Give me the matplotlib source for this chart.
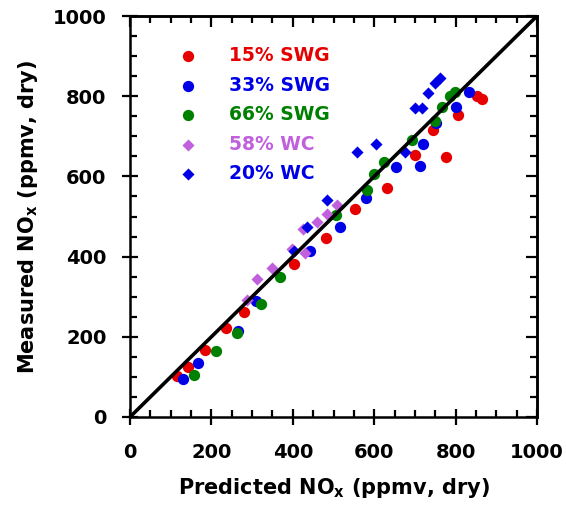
import matplotlib
matplotlib.use("Agg")
import matplotlib.pyplot as plt
from matplotlib.ticker import MultipleLocator

plt.rcParams['font.family'] = ['DejaVu Sans']
plt.rcParams['font.weight'] = 'bold'
plt.rcParams['mathtext.fontset'] = 'dejavusans'

# 15% SWG
swg15_pred = [115, 143, 184, 235, 281, 404, 482, 553, 631, 700, 745, 776, 806, 853, 865]
swg15_meas = [101, 124, 167, 223, 261, 381, 447, 518, 571, 653, 715, 648, 754, 800, 793]
# 33% SWG
swg33_pred = [129, 168, 266, 310, 442, 516, 580, 654, 713, 719, 752, 801, 834]
swg33_meas = [96, 134, 215, 290, 415, 475, 545, 624, 627, 681, 732, 774, 811]
# 66% SWG
swg66_pred = [158, 211, 262, 322, 369, 506, 582, 600, 624, 692, 749, 766, 786, 799]
swg66_meas = [105, 165, 210, 282, 348, 504, 567, 606, 637, 691, 737, 773, 800, 810]
# 58% WC
wc58_pred = [287, 311, 348, 397, 430, 424, 459, 483, 508]
wc58_meas = [292, 344, 371, 420, 410, 468, 487, 506, 529]
# 20% WC
wc20_pred = [404, 436, 483, 557, 604, 676, 700, 717, 733, 749, 762]
wc20_meas = [415, 475, 540, 660, 680, 662, 771, 771, 807, 832, 845]

red = '#e60000'
blue = '#0000e6'
green = '#008000'
purple = '#c060dc'

fig = plt.figure(figsize=(5.66, 5.08), dpi=100)
ax = fig.add_axes([130 / 566, 91 / 508, 407 / 566, 401 / 508])

ax.scatter(swg15_pred, swg15_meas, s=66, c=red, marker='o', lw=0, label='15% SWG', zorder=2)
ax.scatter(swg33_pred, swg33_meas, s=66, c=blue, marker='o', lw=0, label='33% SWG', zorder=2)
ax.scatter(swg66_pred, swg66_meas, s=66, c=green, marker='o', lw=0, label='66% SWG', zorder=2)
ax.scatter(wc58_pred, wc58_meas, s=38, c=purple, marker='D', lw=0, label='58% WC', zorder=2)
ax.scatter(wc20_pred, wc20_meas, s=38, c=blue, marker='D', lw=0, label='20% WC', zorder=2)
ax.plot([0, 1000], [0, 1000], color='black', lw=2.6, zorder=3)

ax.set_xlim(0, 1000)
ax.set_ylim(0, 1000)
ax.xaxis.set_major_locator(MultipleLocator(200))
ax.yaxis.set_major_locator(MultipleLocator(200))
ax.xaxis.set_minor_locator(MultipleLocator(50))
ax.yaxis.set_minor_locator(MultipleLocator(50))

for sp in ax.spines.values():
    sp.set_linewidth(1.8)

ax.tick_params(which='major', direction='inout', length=12, width=1.6, labelsize=14)
ax.tick_params(which='minor', direction='in', length=5, width=1.6)
ax.tick_params(axis='x', which='major', pad=13)
ax.tick_params(axis='y', which='major', pad=11)

top = ax.secondary_xaxis('top')
top.xaxis.set_major_locator(MultipleLocator(200))
top.xaxis.set_minor_locator(MultipleLocator(50))
top.tick_params(which='major', direction='in', length=8, width=1.6, labeltop=False)
top.tick_params(which='minor', direction='in', length=5, width=1.6)
right = ax.secondary_yaxis('right')
right.yaxis.set_major_locator(MultipleLocator(200))
right.yaxis.set_minor_locator(MultipleLocator(50))
right.tick_params(which='major', direction='in', length=8, width=1.6, labelright=False)
right.tick_params(which='minor', direction='in', length=5, width=1.6)
for s in (top, right):
    for sp in s.spines.values():
        sp.set_linewidth(1.8)

ax.set_xlabel('Predicted NO$_\\mathbf{x}$ (ppmv, dry)', fontsize=15, fontweight='bold', labelpad=10)
ax.set_ylabel('Measured NO$_\\mathbf{x}$ (ppmv, dry)', fontsize=15, fontweight='bold', labelpad=9)

leg = ax.legend(loc='upper left', bbox_to_anchor=(0.12, 0.925), frameon=False,
                fontsize=13.5, labelcolor='markerfacecolor', handlelength=1.0,
                handletextpad=1.7, labelspacing=0.56, borderpad=0, borderaxespad=0,
                scatterpoints=1)
for t in leg.get_texts():
    t.set_fontweight('bold')

fig.savefig('out.png', dpi=100)
